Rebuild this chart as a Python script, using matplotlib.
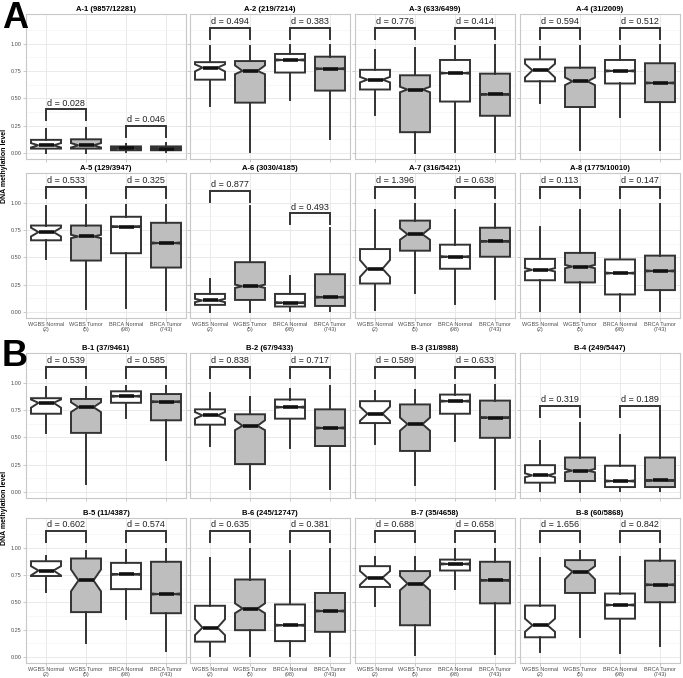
import matplotlib
matplotlib.use('Agg')
import matplotlib.pyplot as plt

plt.rcParams['font.family'] = ['Liberation Sans', 'DejaVu Sans']

groups = ['WGBS Normal\n(2)', 'WGBS Tumor\n(5)', 'BRCA Normal\n(98)', 'BRCA Tumor\n(743)']
fills = ['white', '#bebebe', 'white', '#bebebe']

titles = ['A-1 (9857/12281)', 'A-2 (219/7214)', 'A-3 (633/6499)', 'A-4 (31/2009)',
          'A-5 (129/3947)', 'A-6 (3030/4185)', 'A-7 (316/5421)', 'A-8 (1775/10010)',
          'B-1 (37/9461)', 'B-2 (67/9433)', 'B-3 (31/8988)', 'B-4 (249/5447)',
          'B-5 (11/4387)', 'B-6 (245/12747)', 'B-7 (35/4658)', 'B-8 (60/5868)']

d_values = [[0.028, 0.046], [0.494, 0.383], [0.776, 0.414], [0.594, 0.512],
            [0.533, 0.325], [0.877, 0.493], [1.396, 0.638], [0.113, 0.147],
            [0.539, 0.585], [0.838, 0.717], [0.589, 0.633], [0.319, 0.189],
            [0.602, 0.574], [0.635, 0.381], [0.688, 0.658], [1.656, 0.842]]

bracket_top = [[0.40, 0.25], [1.145, 1.145], [1.145, 1.145], [1.145, 1.145],
               [1.145, 1.145], [1.105, 0.90], [1.145, 1.145], [1.145, 1.145],
               [1.145, 1.145], [1.145, 1.145], [1.145, 1.145], [0.785, 0.785],
               [1.15, 1.15], [1.15, 1.15], [1.15, 1.15], [1.15, 1.15]]

whislo = [[0.0, 0.0, 0.01, 0.01], [0.43, 0.01, 0.485, 0.125],
          [0.35, 0.0, 0.01, 0.01], [0.455, 0.025, 0.325, 0.025],
          [0.48, 0.027, 0.034, 0.015], [0.0, 0.0, 0.01, 0.01],
          [0.02, 0.17, 0.075, 0.12], [0.01, 0.0, 0.01, 0.01],
          [0.535, 0.075, 0.675, 0.295], [0.42, 0.03, 0.40, 0.03],
          [0.44, 0.06, 0.465, 0.03], [0.01, 0.0, 0.01, 0.01],
          [0.59, 0.13, 0.35, 0.055], [0.012, 0.012, 0.012, 0.012],
          [0.47, 0.02, 0.625, 0.025], [0.05, 0.185, 0.035, 0.10]]

q1 = [[0.04, 0.04, 0.025, 0.025], [0.67, 0.46, 0.735, 0.57],
      [0.58, 0.19, 0.47, 0.34], [0.655, 0.42, 0.635, 0.465],
      [0.655, 0.47, 0.537, 0.406], [0.065, 0.11, 0.05, 0.055],
      [0.26, 0.56, 0.395, 0.505], [0.29, 0.27, 0.16, 0.20],
      [0.715, 0.54, 0.815, 0.655], [0.615, 0.255, 0.67, 0.42],
      [0.63, 0.375, 0.715, 0.495], [0.085, 0.10, 0.045, 0.045],
      [0.74, 0.41, 0.62, 0.40], [0.14, 0.245, 0.145, 0.23],
      [0.64, 0.29, 0.79, 0.49], [0.18, 0.585, 0.35, 0.50]]

med = [[0.07, 0.07, 0.045, 0.04], [0.78, 0.75, 0.85, 0.77],
       [0.67, 0.58, 0.73, 0.535], [0.755, 0.655, 0.75, 0.64],
       [0.73, 0.69, 0.78, 0.63], [0.105, 0.235, 0.085, 0.135],
       [0.395, 0.71, 0.505, 0.645], [0.385, 0.415, 0.355, 0.375],
       [0.815, 0.775, 0.875, 0.825], [0.70, 0.605, 0.775, 0.585],
       [0.715, 0.62, 0.83, 0.68], [0.152, 0.195, 0.10, 0.105],
       [0.79, 0.70, 0.755, 0.575], [0.268, 0.443, 0.29, 0.42],
       [0.725, 0.67, 0.85, 0.70], [0.29, 0.78, 0.475, 0.66]]

q3 = [[0.12, 0.125, 0.06, 0.06], [0.83, 0.84, 0.905, 0.88],
      [0.76, 0.71, 0.85, 0.725], [0.855, 0.78, 0.85, 0.82],
      [0.79, 0.79, 0.87, 0.815], [0.165, 0.455, 0.165, 0.345],
      [0.575, 0.835, 0.615, 0.77], [0.485, 0.54, 0.48, 0.515],
      [0.857, 0.85, 0.92, 0.895], [0.755, 0.71, 0.845, 0.755],
      [0.83, 0.80, 0.89, 0.835], [0.245, 0.315, 0.24, 0.315],
      [0.875, 0.90, 0.86, 0.87], [0.468, 0.708, 0.48, 0.585],
      [0.83, 0.785, 0.89, 0.87], [0.47, 0.885, 0.58, 0.88]]

whishi = [[0.22, 0.23, 0.085, 0.09], [0.975, 0.975, 0.985, 0.985],
          [0.945, 0.955, 0.975, 0.985], [0.965, 0.975, 0.975, 0.985],
          [0.967, 0.975, 0.975, 0.98], [0.30, 0.965, 0.33, 0.765],
          [0.93, 0.985, 0.935, 0.985], [0.78, 0.935, 0.935, 0.985],
          [0.96, 0.96, 0.97, 0.97], [0.90, 0.87, 0.94, 0.97],
          [0.92, 0.935, 0.975, 0.975], [0.47, 0.63, 0.52, 0.70],
          [0.925, 0.965, 0.975, 0.985], [0.90, 0.985, 0.965, 0.99],
          [0.915, 0.915, 0.985, 0.985], [0.90, 0.97, 0.91, 0.985]]

# notch limits for the two WGBS boxes; BRCA notches are too small to see
wgbs_notch = [[(0.05, 0.09), (0.05, 0.09)], [(0.745, 0.81), (0.72, 0.80)],
              [(0.645, 0.695), (0.555, 0.605)], [(0.69, 0.815), (0.62, 0.69)],
              [(0.69, 0.77), (0.675, 0.705)], [(0.09, 0.12), (0.22, 0.25)],
              [(0.32, 0.475), (0.66, 0.765)], [(0.37, 0.40), (0.40, 0.43)],
              [(0.77, 0.845), (0.73, 0.82)], [(0.67, 0.73), (0.565, 0.655)],
              [(0.65, 0.78), (0.56, 0.68)], [(0.135, 0.17), (0.18, 0.21)],
              [(0.745, 0.83), (0.60, 0.80)], [(0.20, 0.345), (0.40, 0.49)],
              [(0.66, 0.785), (0.61, 0.74)], [(0.23, 0.35), (0.71, 0.83)]]

W, H = 683, 678
col_left = [26, 190, 355, 520]
row_top = [14, 173, 353, 518]
pw, ph = 160, 145
ylim = (-0.055, 1.27)

fig = plt.figure(figsize=(W / 100, H / 100), dpi=100)
line_c = '#333333'

for i, title in enumerate(titles):
    r, c = divmod(i, 4)
    ax = fig.add_axes([col_left[c] / W, 1 - (row_top[r] + ph) / H, pw / W, ph / H])
    ax.set_axisbelow(True)

    stats = []
    for j in range(4):
        if j < 2:
            lo, hi = wgbs_notch[i][j]
        else:
            lo, hi = med[i][j] - 0.006, med[i][j] + 0.006
        stats.append(dict(med=med[i][j], q1=q1[i][j], q3=q3[i][j],
                          whislo=whislo[i][j], whishi=whishi[i][j],
                          cilo=lo, cihi=hi, fliers=[]))
    bp = ax.bxp(stats, positions=[1, 2, 3, 4], widths=0.75, shownotches=True,
                showcaps=False, showfliers=False, patch_artist=True,
                boxprops=dict(edgecolor=line_c, linewidth=1.4),
                whiskerprops=dict(color=line_c, linewidth=1.4),
                medianprops=dict(color='#111111', linewidth=2.6,
                                 solid_capstyle='butt'))
    for patch, fc in zip(bp['boxes'], fills):
        patch.set_facecolor(fc)

    # brackets with effect sizes
    for k, (a, b) in enumerate([(1, 2), (3, 4)]):
        top = bracket_top[i][k]
        ax.plot([a, a, b, b], [top - 0.1, top, top, top - 0.1],
                color=line_c, lw=1.4, solid_joinstyle='miter')
        ax.text((a + b) / 2, top + 0.015, 'd = %.3f' % d_values[i][k],
                ha='center', va='bottom', fontsize=6.5, color='#222222')

    ax.set_xlim(0.5, 4.5)
    ax.set_ylim(*ylim)
    ax.set_yticks([0, 0.25, 0.5, 0.75, 1.0])
    ax.set_yticks([0.125, 0.375, 0.625, 0.875, 1.125], minor=True)
    ax.set_xticks([1, 2, 3, 4])
    ax.grid(True, which='major', color='#e6e6e6', lw=0.6)
    ax.grid(True, which='minor', axis='y', color='#f2f2f2', lw=0.4)
    ax.tick_params(which='minor', length=0)
    ax.tick_params(which='major', length=2, width=0.5, color='#b3b3b3',
                   pad=1.2, labelsize=4.0, labelcolor='#4d4d4d')
    for s in ax.spines.values():
        s.set_color('#c8c8c8')
        s.set_linewidth(0.8)

    if c == 0:
        ax.set_yticklabels(['0.00', '0.25', '0.50', '0.75', '1.00'])
    else:
        ax.set_yticklabels([])
    if r in (1, 3):
        ax.set_xticklabels(groups, linespacing=1.0)
    else:
        ax.set_xticklabels([])

    ax.set_title(title, fontsize=5.5, fontweight='bold', pad=2.5)

fig.text(2 / W, 1 - 1 / H, 'A', fontsize=26, fontweight='bold', va='top', ha='left')
fig.text(2 / W, 1 - 339 / H, 'B', fontsize=26, fontweight='bold', va='top', ha='left')
fig.text(5 / W, 1 - 166 / H, 'DNA methylation level', rotation=90, fontsize=5.0,
         fontweight='bold', ha='center', va='center')
fig.text(5 / W, 1 - 508 / H, 'DNA methylation level', rotation=90, fontsize=5.0,
         fontweight='bold', ha='center', va='center')

fig.savefig('out.png', dpi=100, facecolor='white')
